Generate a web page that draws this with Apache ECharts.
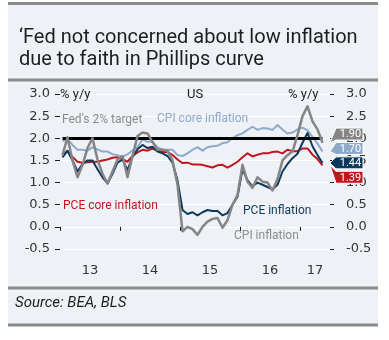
<!DOCTYPE html>
<html><head><meta charset="utf-8">
<script src="https://cdn.jsdelivr.net/npm/echarts@6/dist/echarts.min.js"></script>
<style>html,body{margin:0;padding:0;background:#fff}#c{width:389px;height:340px}</style>
</head><body><div id="c"></div>
<script>
// Monthly observations, Jan 2013 - May 2017
const months = [
 '2013-01','2013-02','2013-03','2013-04','2013-05','2013-06','2013-07','2013-08','2013-09','2013-10','2013-11','2013-12',
 '2014-01','2014-02','2014-03','2014-04','2014-05','2014-06','2014-07','2014-08','2014-09','2014-10','2014-11','2014-12',
 '2015-01','2015-02','2015-03','2015-04','2015-05','2015-06','2015-07','2015-08','2015-09','2015-10','2015-11','2015-12',
 '2016-01','2016-02','2016-03','2016-04','2016-05','2016-06','2016-07','2016-08','2016-09','2016-10','2016-11','2016-12',
 '2017-01','2017-02','2017-03','2017-04','2017-05'];
const yearLabels = ['13','14','15','16','17'];
const axisMonths = 54; // axis runs to end of June 2017
const fedTarget = 2.0;
const cpiCore = [1.94,1.98,1.85,1.74,1.74,1.72,1.80,1.75,1.70,1.70,1.64,1.62,
 1.58,1.64,1.72,1.80,1.98,1.92,1.92,1.80,1.74,1.74,1.74,1.62,
 1.60,1.66,1.74,1.80,1.72,1.80,1.82,1.83,1.89,1.91,2.00,2.07,
 2.11,2.19,2.26,2.19,2.23,2.22,2.19,2.30,2.20,2.11,2.13,2.20,
 2.24,2.18,2.03,1.88,1.70];
const pceCore = [1.62,1.71,1.58,1.47,1.45,1.46,1.47,1.47,1.50,1.52,1.56,1.57,
 1.53,1.47,1.60,1.68,1.74,1.72,1.77,1.72,1.69,1.69,1.62,1.52,
 1.44,1.45,1.41,1.41,1.40,1.37,1.34,1.39,1.40,1.34,1.40,1.47,
 1.57,1.66,1.59,1.63,1.66,1.66,1.69,1.70,1.66,1.74,1.71,1.71,
 1.77,1.77,1.63,1.53,1.39];
const pce = [1.57,1.72,1.50,1.25,1.42,1.50,1.50,1.30,1.12,0.98,1.20,1.45,
 1.52,1.28,1.58,1.75,1.85,1.78,1.81,1.70,1.66,1.60,1.45,1.05,
 0.38,0.29,0.33,0.26,0.33,0.38,0.36,0.36,0.26,0.31,0.50,0.68,
 1.30,1.05,0.92,1.00,0.95,0.90,0.85,0.95,1.25,1.42,1.55,1.65,
 1.90,2.12,1.82,1.62,1.44];
const cpi = [1.62,2.02,1.50,1.12,1.40,1.78,2.00,1.52,1.20,0.98,1.25,1.52,
 1.60,1.12,1.60,2.05,2.13,2.11,1.92,1.74,1.74,1.72,1.50,0.95,
 -0.10,0.00,-0.05,-0.18,0.00,0.12,0.18,0.20,-0.02,0.15,0.50,0.72,
 1.40,1.02,0.88,1.12,1.02,1.00,0.82,1.08,1.50,1.62,1.70,2.07,
 2.50,2.72,2.38,2.20,1.90];

const COL = {gray:'#858585', light:'#8eaacb', navy:'#0d3a5c', red:'#c0161e', text:'#1e1e1e', bg:'#eef1f5', rule:'#8a8a8a'};
const pts = arr => arr.map((v,i)=>[i+0.5, v]);
const tickVals = yearLabels.map((_,i)=>i*12);
const labelVals = yearLabels.map((_,i)=>(i*12 + Math.min(i*12+12, axisMonths))/2);
const numFont = 'DejaVu Sans';
const txtFont = 'Roboto';

const lineSeries = (name, data, color, width, z) => ({
  name, type:'line', data: pts(data), symbol:'none', smooth:false, z,
  lineStyle:{color, width, join:'round'}, emphasis:{disabled:true}
});

const option = {
  animation:false,
  backgroundColor:'#ffffff',
  title:{text:'\u2018Fed not concerned about low inflation\ndue to faith in Phillips curve', left:14, top:22,
    textStyle:{fontFamily:txtFont, fontSize:20, fontWeight:'normal', lineHeight:22, color:COL.text}},
  grid:{left:60, right:59, top:94, bottom:91, outerBoundsMode:'none', containLabel:false},
  xAxis:{type:'value', min:0, max:axisMonths,
    axisLine:{show:false}, splitLine:{show:false}, offset:8,
    axisTick:{show:true, customValues:tickVals, length:4, lineStyle:{color:COL.text, width:1}},
    axisLabel:{customValues:labelVals, formatter:v=>yearLabels[Math.floor(v/12)], margin:7,
      fontFamily:numFont, fontSize:13, color:'#333'}},
  yAxis:[
    {type:'value', min:-0.5, max:3, interval:0.5, position:'left', offset:2,
      axisLine:{show:false}, axisTick:{show:true, length:5, lineStyle:{color:COL.text}},
      axisLabel:{formatter:v=>v.toFixed(1), margin:8, fontFamily:numFont, fontSize:13, color:'#333'},
      splitLine:{show:true, lineStyle:{color:'#ffffff', width:1}}},
    {type:'value', min:-0.5, max:3, interval:0.5, position:'right',
      axisLine:{show:false}, axisTick:{show:true, length:4, lineStyle:{color:COL.text}},
      axisLabel:{formatter:v=>v.toFixed(1), margin:16, fontFamily:numFont, fontSize:13, color:'#333'},
      splitLine:{show:false}}
  ],
  series:[
    {type:'line', data:[], z:1, markLine:{symbol:'none', silent:true, label:{show:false},
      lineStyle:{color:'#000', width:3, type:'solid'},
      data:[[{coord:[0.5, fedTarget]},{coord:[months.length-0.5, fedTarget]}]]}},
    lineSeries('CPI core inflation', cpiCore, COL.light, 2, 2),
    lineSeries('PCE core inflation', pceCore, COL.red, 2, 3),
    lineSeries('PCE inflation', pce, COL.navy, 2, 4),
    lineSeries('CPI inflation', cpi, COL.gray, 2.5, 5)
  ]
};

const chart = echarts.init(document.getElementById('c'));
chart.setOption(option);

const txt = (x, y, text, color, font) => ({type:'text', x, y, z:50,
  style:{text, fill:color, font:font || ('12px '+txtFont), textVerticalAlign:'middle'}});
const rule = y => ({type:'line', z:40, shape:{x1:8, y1:y, x2:378, y2:y}, style:{stroke:COL.rule, lineWidth:3}});

const graphics = [
  {type:'rect', z:-100, shape:{x:8, y:2, width:370, height:324}, style:{fill:COL.bg}},
  rule(3.5), rule(80), rule(288), rule(325),
  txt(15, 303, 'Source: BEA, BLS', COL.text, 'italic 15px '+txtFont),
  txt(60, 95, '% y/y', COL.text, '13px '+txtFont),
  txt(187, 95, 'US', COL.text, '13px '+txtFont),
  txt(288, 95, '% y/y', COL.text, '13px '+txtFont),
  txt(62, 120, "Fed's 2% target", '#8c8c8c'),
  txt(157, 119, 'CPI core inflation', COL.light),
  txt(63, 206, 'PCE core inflation', COL.red),
  txt(243, 211, 'PCE inflation', COL.navy),
  txt(234, 236, 'CPI inflation', '#8c8c8c')
];

// end-value tags
const ends = [
  {data:cpi, color:COL.gray},
  {data:cpiCore, color:COL.light},
  {data:pce, color:COL.navy},
  {data:pceCore, color:COL.red}
];
const ys = ends.map(e => chart.convertToPixel({gridIndex:0}, [e.data.length-0.5, e.data[e.data.length-1]])[1]);
const meanY = ys.reduce((a,b)=>a+b,0)/ys.length;
const gap = 14.4, half = 6, tipX = 330, bodyL = 336, bodyR = 363;
ends.forEach((e,i)=>{
  const cy = meanY + (i-(ends.length-1)/2)*gap;
  const v = e.data[e.data.length-1];
  graphics.push({type:'polygon', z:60, shape:{points:[[tipX, ys[i]],[bodyL, cy-half],[bodyR, cy-half],[bodyR, cy+half],[bodyL, cy+half]]},
    style:{fill:e.color, stroke:'#ffffff', lineWidth:1}});
  graphics.push({type:'text', z:61, x:(bodyL+bodyR)/2+1, y:cy+0.5,
    style:{text:v.toFixed(2), fill:'#ffffff', font:'11px '+txtFont, textAlign:'center', textVerticalAlign:'middle'}});
});
chart.setOption({graphic:graphics});
</script></body></html>
